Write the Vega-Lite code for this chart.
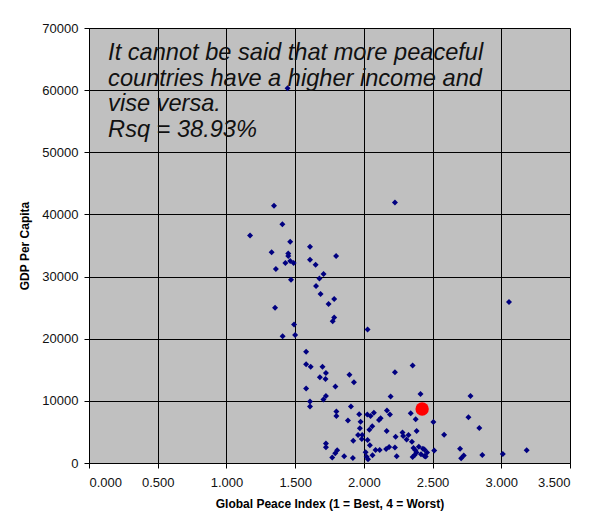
{
  "$schema": "https://vega.github.io/schema/vega-lite/v6.json",
  "width": 481,
  "height": 435,
  "autosize": {"type": "none"},
  "padding": {"left": 89, "top": 28, "right": 23, "bottom": 63},
  "background": "white",
  "config": {
    "view": {"fill": "#C0C0C0", "stroke": "#808080", "strokeWidth": 1},
    "font": "Liberation Sans",
    "axis": {
      "grid": true,
      "gridColor": "#000000",
      "gridOpacity": 1,
      "gridWidth": 1,
      "domainColor": "#000000",
      "tickColor": "#000000",
      "tickSize": 5,
      "labelFont": "Liberation Sans",
      "labelFontSize": 13,
      "labelColor": "#111111",
      "titleFont": "Liberation Sans",
      "titleFontSize": 12,
      "titleFontWeight": "bold",
      "titleColor": "#000000"
    }
  },
  "datasets": {
    "pts": [
      {"gpi": 1.445, "gdp": 60300}, {"gpi": 2.226, "gdp": 41900}, {"gpi": 1.346, "gdp": 41400},
      {"gpi": 1.407, "gdp": 38400}, {"gpi": 1.172, "gdp": 36600}, {"gpi": 1.464, "gdp": 35600},
      {"gpi": 1.608, "gdp": 34800}, {"gpi": 1.329, "gdp": 33900}, {"gpi": 1.45, "gdp": 33700},
      {"gpi": 1.45, "gdp": 33300}, {"gpi": 1.798, "gdp": 33300}, {"gpi": 1.608, "gdp": 32700},
      {"gpi": 1.649, "gdp": 31900}, {"gpi": 1.429, "gdp": 32200}, {"gpi": 1.464, "gdp": 32500},
      {"gpi": 1.489, "gdp": 32200}, {"gpi": 1.36, "gdp": 31200}, {"gpi": 1.707, "gdp": 30400},
      {"gpi": 1.677, "gdp": 29700}, {"gpi": 1.47, "gdp": 29500}, {"gpi": 1.652, "gdp": 28500},
      {"gpi": 1.685, "gdp": 27200}, {"gpi": 1.784, "gdp": 26400}, {"gpi": 1.743, "gdp": 25600},
      {"gpi": 3.056, "gdp": 25900}, {"gpi": 1.354, "gdp": 25000}, {"gpi": 1.784, "gdp": 23400},
      {"gpi": 1.773, "gdp": 22800}, {"gpi": 1.492, "gdp": 22300}, {"gpi": 2.027, "gdp": 21500},
      {"gpi": 1.409, "gdp": 20400}, {"gpi": 1.5, "gdp": 20600}, {"gpi": 1.58, "gdp": 17900},
      {"gpi": 1.58, "gdp": 15900}, {"gpi": 1.613, "gdp": 15500}, {"gpi": 1.699, "gdp": 15500},
      {"gpi": 2.355, "gdp": 15700}, {"gpi": 1.724, "gdp": 14500}, {"gpi": 1.895, "gdp": 14200},
      {"gpi": 2.226, "gdp": 14600}, {"gpi": 1.68, "gdp": 13800}, {"gpi": 1.721, "gdp": 13500},
      {"gpi": 1.928, "gdp": 13000}, {"gpi": 1.58, "gdp": 12000}, {"gpi": 1.793, "gdp": 12300},
      {"gpi": 2.412, "gdp": 11100}, {"gpi": 2.195, "gdp": 10700}, {"gpi": 2.776, "gdp": 10800},
      {"gpi": 1.724, "gdp": 10800}, {"gpi": 1.706, "gdp": 10200}, {"gpi": 1.608, "gdp": 9900},
      {"gpi": 1.608, "gdp": 9100}, {"gpi": 1.906, "gdp": 9100}, {"gpi": 1.8, "gdp": 8300},
      {"gpi": 1.8, "gdp": 7550}, {"gpi": 2.168, "gdp": 8450}, {"gpi": 2.19, "gdp": 7800},
      {"gpi": 2.341, "gdp": 7990}, {"gpi": 1.966, "gdp": 7830}, {"gpi": 2.025, "gdp": 7800},
      {"gpi": 2.049, "gdp": 7560}, {"gpi": 2.073, "gdp": 8100}, {"gpi": 2.377, "gdp": 7030},
      {"gpi": 2.761, "gdp": 7350}, {"gpi": 1.884, "gdp": 6850}, {"gpi": 2.11, "gdp": 6920},
      {"gpi": 2.122, "gdp": 7190}, {"gpi": 1.976, "gdp": 6650}, {"gpi": 2.506, "gdp": 6580},
      {"gpi": 2.061, "gdp": 5900}, {"gpi": 2.04, "gdp": 5350}, {"gpi": 2.166, "gdp": 5150},
      {"gpi": 2.384, "gdp": 5150}, {"gpi": 2.84, "gdp": 5620}, {"gpi": 1.971, "gdp": 5580},
      {"gpi": 1.958, "gdp": 4500}, {"gpi": 1.988, "gdp": 4500}, {"gpi": 2.281, "gdp": 4900},
      {"gpi": 2.286, "gdp": 4350}, {"gpi": 2.325, "gdp": 4500}, {"gpi": 2.584, "gdp": 4550},
      {"gpi": 2.231, "gdp": 4230}, {"gpi": 1.985, "gdp": 3850}, {"gpi": 1.923, "gdp": 3590},
      {"gpi": 2.027, "gdp": 3720}, {"gpi": 2.311, "gdp": 3780}, {"gpi": 2.35, "gdp": 3400},
      {"gpi": 1.724, "gdp": 3150}, {"gpi": 1.724, "gdp": 2550}, {"gpi": 2.044, "gdp": 2870},
      {"gpi": 2.361, "gdp": 2430}, {"gpi": 2.226, "gdp": 2480}, {"gpi": 2.085, "gdp": 2100},
      {"gpi": 2.115, "gdp": 2100}, {"gpi": 2.162, "gdp": 2250}, {"gpi": 2.184, "gdp": 2580},
      {"gpi": 2.375, "gdp": 2050}, {"gpi": 2.441, "gdp": 2160}, {"gpi": 2.512, "gdp": 2000},
      {"gpi": 2.7, "gdp": 2300}, {"gpi": 3.185, "gdp": 2050}, {"gpi": 1.806, "gdp": 2050},
      {"gpi": 1.792, "gdp": 1560}, {"gpi": 1.77, "gdp": 900}, {"gpi": 1.857, "gdp": 1100},
      {"gpi": 1.92, "gdp": 800}, {"gpi": 2.013, "gdp": 1750}, {"gpi": 2.03, "gdp": 600},
      {"gpi": 2.063, "gdp": 1260}, {"gpi": 2.239, "gdp": 1100}, {"gpi": 2.355, "gdp": 970},
      {"gpi": 2.383, "gdp": 1670}, {"gpi": 2.416, "gdp": 1400}, {"gpi": 2.441, "gdp": 1130},
      {"gpi": 2.46, "gdp": 1670}, {"gpi": 2.708, "gdp": 750}, {"gpi": 2.727, "gdp": 1200},
      {"gpi": 2.862, "gdp": 1270}, {"gpi": 3.011, "gdp": 1450}, {"gpi": 2.4, "gdp": 2600},
      {"gpi": 2.37, "gdp": 1300}, {"gpi": 2.45, "gdp": 1050}, {"gpi": 2.02, "gdp": 1020},
      {"gpi": 2.43, "gdp": 2300}
    ],
    "highlight": [{"gpi": 2.424, "gdp": 8700}],
    "note": [{"gpi": 0.139, "gdp": 64850, "label": "It cannot be said that more peaceful\ncountries have a higher income and\nvise versa.\nRsq = 38.93%"}]
  },
  "layer": [
    {
      "data": {"name": "pts"},
      "mark": {"type": "point", "shape": "diamond", "filled": true, "size": 36, "color": "#000080", "opacity": 1},
      "encoding": {
        "x": {
          "field": "gpi", "type": "quantitative",
          "scale": {"domain": [0, 3.5], "nice": false},
          "axis": {"values": [0, 0.5, 1, 1.5, 2, 2.5, 3, 3.5], "format": ".3f", "labelPadding": 8, "titlePadding": 9},
          "title": "Global Peace Index (1 = Best, 4 = Worst)"
        },
        "y": {
          "field": "gdp", "type": "quantitative",
          "scale": {"domain": [0, 70000], "nice": false},
          "axis": {"values": [0, 10000, 20000, 30000, 40000, 50000, 60000, 70000], "format": "d", "labelPadding": 6, "titlePadding": 10},
          "title": "GDP Per Capita"
        }
      }
    },
    {
      "data": {"name": "highlight"},
      "mark": {"type": "point", "shape": "circle", "filled": true, "size": 180, "color": "#FF0000", "opacity": 1},
      "encoding": {
        "x": {"field": "gpi", "type": "quantitative"},
        "y": {"field": "gdp", "type": "quantitative"}
      }
    },
    {
      "data": {"name": "note"},
      "mark": {"type": "text", "align": "left", "baseline": "alphabetic", "lineBreak": "\n", "lineHeight": 25.7, "fontSize": 23.6, "fontStyle": "italic", "font": "Liberation Sans", "color": "#111111"},
      "encoding": {
        "x": {"field": "gpi", "type": "quantitative"},
        "y": {"field": "gdp", "type": "quantitative"},
        "text": {"field": "label", "type": "nominal"}
      }
    }
  ]
}
